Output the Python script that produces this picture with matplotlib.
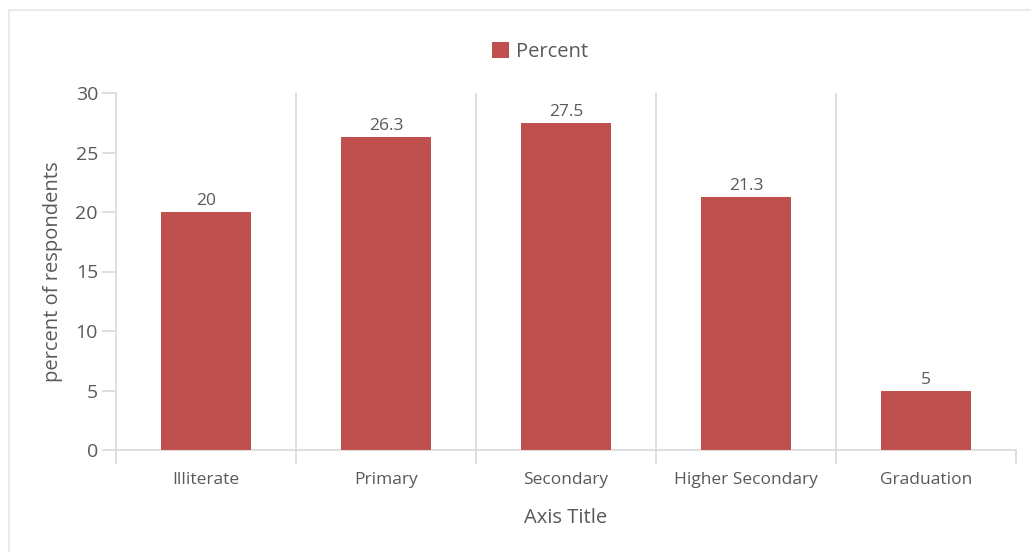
import matplotlib.pyplot as plt
import numpy as np
from matplotlib.lines import Line2D

categories = ['Illiterate', 'Primary', 'Secondary', 'Higher Secondary', 'Graduation']
percent = [20, 26.3, 27.5, 21.3, 5]
labels = ['20', '26.3', '27.5', '21.3', '5']

plt.rcParams['font.family'] = ['Open Sans', 'DejaVu Sans']
grey = '#595959'
line = '#d9d9d9'
red = '#C0504D'

fig = plt.figure(figsize=(10.31, 5.52), dpi=100)
# outer border: only top and left edges are visible
fig.lines.append(Line2D([9 / 1031, 9 / 1031, 1], [0, 1 - 10 / 552, 1 - 10 / 552],
                        transform=fig.transFigure, color='#e6e6e6', linewidth=1.2))

ax = fig.add_axes([116 / 1031, 1 - 450 / 552, 900 / 1031, 357 / 552])
x = np.arange(len(categories))
bars = ax.bar(x, percent, width=0.5, color=red, label='Percent', zorder=3)

for xi, v, t in zip(x, percent, labels):
    ax.annotate(t, (xi, v), xytext=(0, 2), textcoords='offset points',
                ha='center', va='bottom', fontsize=12.5, color=grey)

ax.set_xlim(-0.5, len(categories) - 0.5)
ax.set_ylim(0, 30)
ax.set_yticks(range(0, 31, 5))
ax.set_xticks(x)
ax.set_xticklabels(categories, fontsize=12.5, color=grey)
ax.set_xticks(np.arange(-0.5, len(categories), 1), minor=True)
ax.tick_params(axis='x', which='major', length=0, pad=15.5)
ax.tick_params(axis='x', which='minor', length=10, color=line, width=1.2)
ax.tick_params(axis='y', length=10, color=line, width=1.2, labelsize=14, labelcolor=grey, pad=3)

for b in np.arange(0.5, len(categories) - 1, 1):
    ax.axvline(b, color=line, linewidth=1.2, zorder=1)

for s in ['top', 'right']:
    ax.spines[s].set_visible(False)
for s in ['left', 'bottom']:
    ax.spines[s].set_color(line)
    ax.spines[s].set_linewidth(1.2)

ax.set_ylabel('percent of respondents', fontsize=14.5, color=grey, labelpad=9)
ax.set_xlabel('Axis Title', fontsize=14.5, color=grey, labelpad=15)

leg = fig.legend(handles=[bars], loc='center', bbox_to_anchor=(540 / 1031, 1 - 52 / 552),
                 frameon=False, fontsize=14.5, handlelength=0.85, handleheight=0.85,
                 handletextpad=0.3, labelcolor=grey)

fig.savefig('out.png', dpi=100)
